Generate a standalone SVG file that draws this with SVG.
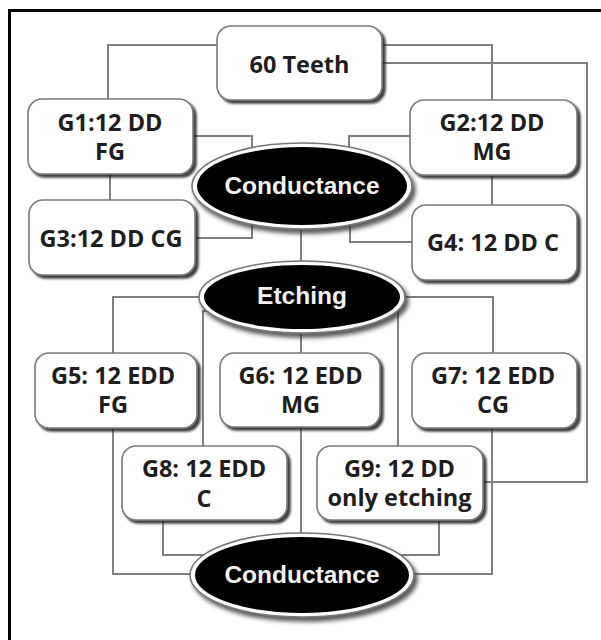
<svg xmlns="http://www.w3.org/2000/svg" width="601" height="640" viewBox="0 0 601 640">
<defs>
<filter id="sh" x="-10%" y="-10%" width="130%" height="140%">
<feDropShadow dx="3" dy="3" stdDeviation="1.2" flood-color="#222" flood-opacity="0.85"/>
</filter>
<filter id="esh" x="-10%" y="-20%" width="130%" height="150%">
<feDropShadow dx="3" dy="4" stdDeviation="2" flood-color="#333" flood-opacity="0.8"/>
</filter>
</defs>
<style>
.box{fill:#fff;stroke:#7a7a7a;stroke-width:1.6;filter:url(#sh)}
.bt{font-family:"Open Sans","Liberation Sans",sans-serif;font-weight:700;font-size:23.5px;fill:#1e1e1e;text-anchor:middle}
.eo{fill:#fff;stroke:#777;stroke-width:1.6;filter:url(#esh)}
.ei{fill:#000}
.et{font-family:"Liberation Sans",Arial,sans-serif;font-weight:700;font-size:24.5px;fill:#f2f2f2;text-anchor:middle}
.c{fill:none;stroke:#808080;stroke-width:2}
</style>
<rect x="0" y="0" width="601" height="640" fill="#fff"/>
<rect x="9.5" y="10.5" width="600" height="640" fill="none" stroke="#000" stroke-width="3"/>
<g id="connectors">
<path class="c" d="M217 45H108V99"/>
<path class="c" d="M382 45H492V100"/>
<path class="c" d="M483 482H587V63H382"/>
<path class="c" d="M193 136H252V149"/>
<path class="c" d="M410 136H349V149"/>
<path class="c" d="M110 174V200"/>
<path class="c" d="M492 175V205"/>
<path class="c" d="M195 238H252V224"/>
<path class="c" d="M412 242H350V224"/>
<path class="c" d="M301 229V262"/>
<path class="c" d="M200 297H113V353"/>
<path class="c" d="M404 297H493V353"/>
<path class="c" d="M210 311H203V446"/>
<path class="c" d="M393 311H398V446"/>
<path class="c" d="M301 333V353"/>
<path class="c" d="M301 427V533"/>
<path class="c" d="M163 520V555H205"/>
<path class="c" d="M439 520V555H399"/>
<path class="c" d="M113 428V574H191"/>
<path class="c" d="M492 428V574H413"/>
</g>
<g id="teeth"><rect class="box" x="217" y="26" width="165" height="74" rx="14"/><text class="bt" x="299.5" y="73">60 Teeth</text></g>
<g id="g1"><rect class="box" x="28" y="99" width="165" height="75" rx="14"/><text class="bt" x="110" y="131">G1:12 DD</text><text class="bt" x="110" y="160">FG</text></g>
<g id="g2"><rect class="box" x="410" y="100" width="167" height="75" rx="14"/><text class="bt" x="492" y="131">G2:12 DD</text><text class="bt" x="492" y="160">MG</text></g>
<g id="cond1"><ellipse class="eo" cx="302" cy="186" rx="110" ry="43"/><ellipse class="ei" cx="302" cy="186" rx="105" ry="39"/><text class="et" x="302" y="194">Conductance</text></g>
<g id="g3"><rect class="box" x="29" y="200" width="166" height="75" rx="14"/><text class="bt" x="111" y="247">G3:12 DD CG</text></g>
<g id="g4"><rect class="box" x="412" y="205" width="165" height="75" rx="14"/><text class="bt" x="493" y="251">G4: 12 DD C</text></g>
<g id="etch"><ellipse class="eo" cx="302" cy="297" rx="103" ry="36"/><ellipse class="ei" cx="302" cy="297" rx="98" ry="32"/><text class="et" x="302" y="304">Etching</text></g>
<g id="g5"><rect class="box" x="35" y="353" width="162" height="75" rx="14"/><text class="bt" x="113" y="384">G5: 12 EDD</text><text class="bt" x="113" y="413">FG</text></g>
<g id="g6"><rect class="box" x="220" y="353" width="160" height="74" rx="14"/><text class="bt" x="300.5" y="384">G6: 12 EDD</text><text class="bt" x="300.5" y="413">MG</text></g>
<g id="g7"><rect class="box" x="412" y="353" width="165" height="75" rx="14"/><text class="bt" x="493" y="384">G7: 12 EDD</text><text class="bt" x="493" y="413">CG</text></g>
<g id="g8"><rect class="box" x="122" y="446" width="165" height="74" rx="14"/><text class="bt" x="204" y="477">G8: 12 EDD</text><text class="bt" x="204" y="507">C</text></g>
<g id="g9"><rect class="box" x="317" y="446" width="166" height="74" rx="14"/><text class="bt" x="399.5" y="477">G9: 12 DD</text><text class="bt" x="399.5" y="506">only etching</text></g>
<g id="cond2"><ellipse class="eo" cx="302" cy="575" rx="112" ry="42"/><ellipse class="ei" cx="302" cy="575" rx="107" ry="38"/><text class="et" x="302" y="583">Conductance</text></g>
</svg>
